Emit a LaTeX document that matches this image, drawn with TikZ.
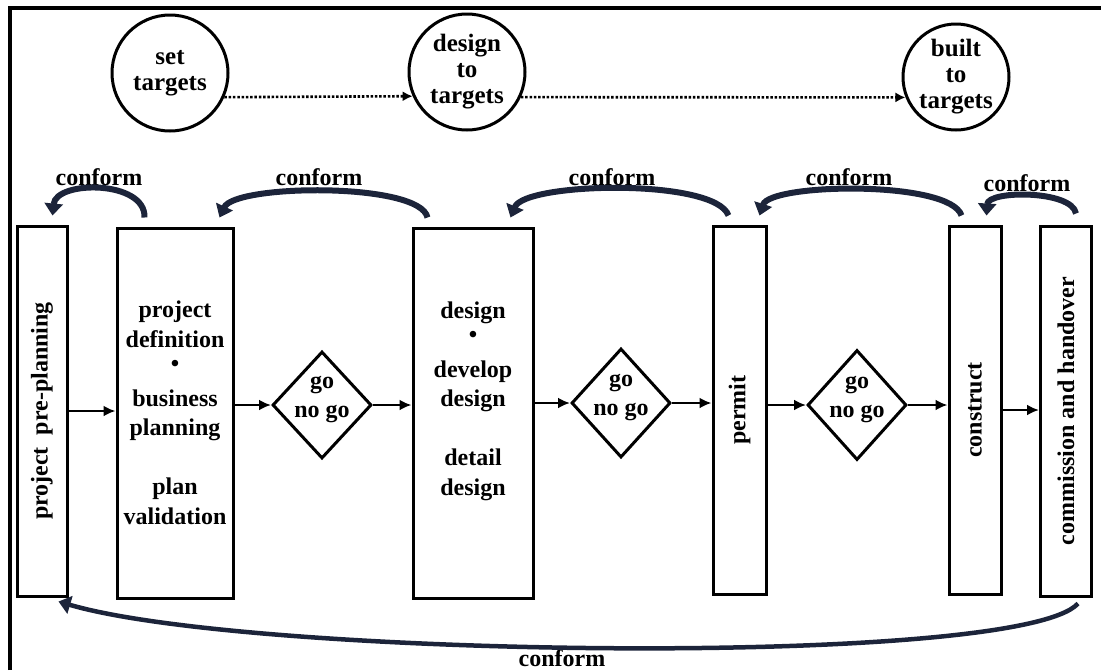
\documentclass[tikz,border=0pt]{standalone}
\usepackage{fontspec}
\setmainfont{Liberation Serif}
\usepackage{graphicx}
\usepackage{tikz}
\usetikzlibrary{arrows.meta, shapes.geometric}

\definecolor{navy}{RGB}{28,36,58}
\tikzset{
  stage/.style={draw, line width=3pt, rectangle, inner sep=0pt, minimum height=370pt,
    align=center, font=\bfseries\fontsize{24}{29.5}\selectfont},
  gate/.style={draw, line width=3pt, diamond, inner sep=0pt, minimum width=99pt, minimum height=107pt},
  target/.style={draw, line width=3pt, circle, inner sep=0pt, align=center,
    font=\bfseries\fontsize{25}{26}\selectfont},
  lbl/.style={inner sep=0pt, align=center, font=\bfseries\fontsize{24}{29}\selectfont},
  flow/.style={-{Latex[length=12pt,width=11pt]}, line width=2.8pt},
  track/.style={-{Latex[length=10pt,width=10pt]}, line width=2.6pt, dash pattern=on 2.5pt off 1.8pt},
  conf/.style={draw=navy, line width=6pt, -{Triangle[length=12pt,width=18pt]}}
}

\begin{document}
\begin{tikzpicture}[x=1pt, y=-1pt]
\useasboundingbox (0,0) rectangle (1101,670);
\draw[line width=3.5pt] (10,670) -- (10,8) -- (1101,8);

% targets
\node[target, minimum size=116pt] (T1) at (170,73) {set\\targets};
\node[target, minimum size=116pt] (T2) at (467,72) {design\\to\\targets};
\node[target, minimum size=106pt] (T3) at (956,77) {built\\to\\targets};

\draw[track] (T1.-24) -- (T2.204);
\draw[track] (T2.-25) -- (T3.202);

% stages
\node[stage, minimum width=50pt] (B1) at (42,411) {\rotatebox{90}{project\ \ pre-planning}};
\node[stage, minimum width=116pt] (B2) at (175,413)
  {project\\definition\\\raisebox{5pt}{•}\\business\\planning\\\mbox{}\\plan\\validation};
\node[gate] (G1) at (322,405) {};
\node[lbl] at ([yshift=6pt]G1.center) {go\\no go};
\node[stage, minimum width=120pt] (B3) at (473,413)
  {design\\\raisebox{5pt}{•}\\develop\\design\\\mbox{}\\detail\\design\\\mbox{}};
\node[gate, minimum height=109pt] (G2) at (621,403) {};
\node[lbl] at ([yshift=6pt]G2.center) {go\\no go};
\node[stage, minimum width=53pt, minimum height=368pt] (B4) at (739.5,410) {\rotatebox{90}{permit}};
\node[gate, minimum height=110pt] (G3) at (857,405) {};
\node[lbl] at ([yshift=6pt]G3.center) {go\\no go};
\node[stage, minimum width=52pt, minimum height=368pt] (B5) at (975,410) {\rotatebox{90}{construct}};
\node[stage, minimum width=51pt] (B6) at (1066,411) {\rotatebox{90}{commission and handover}};

\draw[flow] (B1.east) -- (B1.east -| B2.west);
\draw[flow] (B2.east |- G1) -- (G1.west);
\draw[flow] (G1.east) -- (G1.east -| B3.west);
\draw[flow] (B3.east |- G2) -- (G2.west);
\draw[flow] (G2.east) -- (G2.east -| B4.west);
\draw[flow] (B4.east |- G3) -- (G3.west);
\draw[flow] (G3.east) -- (G3.east -| B5.west);
\draw[flow] (B5.east) -- (B5.east -| B6.west);

% conform loops
\node[lbl] (C1) at (99,177) {conform};
\node[lbl] (C2) at (319,177) {conform};
\node[lbl] (C3) at (612,177) {conform};
\node[lbl] (C4) at (849,177) {conform};
\node[lbl] (C5) at (1027,183) {conform};
\node[lbl, anchor=base] (C6) at (562,666) {conform};

\draw[conf] ([xshift=29pt,yshift=9pt]B2.north west) .. controls (146,180) and (56,180) .. ([xshift=-16pt,yshift=9pt]B1.north east);
\draw[conf] ([xshift=16pt,yshift=9pt]B3.north west) .. controls (420,182) and (235,184) .. ([xshift=-15pt,yshift=9pt]B2.north east);
\draw[conf] ([xshift=17pt,yshift=9pt]B4.north west) .. controls (715,178) and (525,182) .. ([xshift=-24pt,yshift=9pt]B3.north east);
\draw[conf] ([xshift=14pt,yshift=9pt]B5.north west) .. controls (950,180) and (770,183) .. ([xshift=-8pt,yshift=9pt]B4.north east);
\draw[conf] ([xshift=-17pt,yshift=11pt]B6.north east) .. controls (1072,190) and (988,190) .. ([xshift=-16pt,yshift=9pt]B5.north east);
\draw[conf, line width=4.5pt] ([xshift=-15pt,yshift=-6pt]B6.south east) .. controls (1020,668) and (250,658) .. ([xshift=-10pt,yshift=-4pt]B1.south east);
\end{tikzpicture}
\end{document}
